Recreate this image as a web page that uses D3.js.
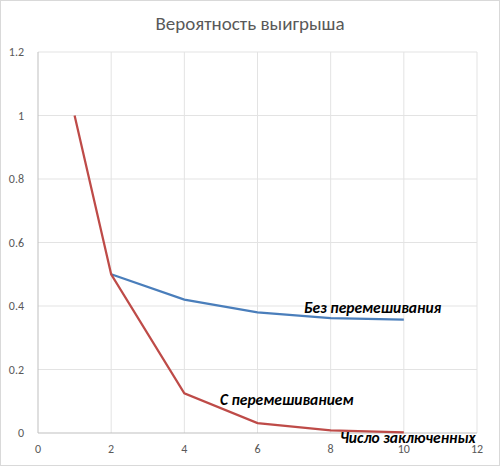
<!DOCTYPE html>
<html><head><meta charset="utf-8">
<script src="https://cdn.jsdelivr.net/npm/d3@7"></script>
<style>body{margin:0;background:#fff}</style>
</head><body>
<svg id="chart" width="500" height="466"></svg>
<script>
const xTicks = [0, 2, 4, 6, 8, 10, 12];
const yTicks = [0, 0.2, 0.4, 0.6, 0.8, 1, 1.2];
const noShuffleX = [2, 4, 6, 8, 10];
const noShuffleY = [0.5, 0.42, 0.38, 0.362, 0.357];
const shuffleX = [1, 2, 4, 6, 8, 10];
const shuffleY = [1, 0.5, 0.125, 0.031, 0.008, 0.002];

const svg = d3.select("#chart");
const font = "Calibri, Carlito, 'Liberation Sans', sans-serif";

svg.append("rect").attr("x", 0.5).attr("y", 0.5).attr("width", 499).attr("height", 465)
    .attr("fill", "#fff").attr("stroke", "#d9d9d9");

const x = d3.scaleLinear().domain([0, 12]).range([38, 477]);
const y = d3.scaleLinear().domain([0, 1.2]).range([433, 52]);

// gridlines
svg.selectAll(".hgrid").data(yTicks.slice(1)).enter().append("line")
    .attr("x1", x(0)).attr("x2", x(12))
    .attr("y1", d => y(d)).attr("y2", d => y(d))
    .attr("stroke", "#e3e3e3");
svg.selectAll(".vgrid").data(xTicks.slice(1)).enter().append("line")
    .attr("x1", d => x(d)).attr("x2", d => x(d))
    .attr("y1", y(0)).attr("y2", y(1.2))
    .attr("stroke", "#e3e3e3");

// axes lines
svg.append("line").attr("x1", x(0)).attr("x2", x(0)).attr("y1", y(0)).attr("y2", y(1.2)).attr("stroke", "#bfbfbf");
svg.append("line").attr("x1", x(0)).attr("x2", x(12)).attr("y1", y(0)).attr("y2", y(0)).attr("stroke", "#bfbfbf");

svg.selectAll(".ylab").data(yTicks).enter().append("text")
    .attr("x", 24).attr("y", d => y(d) + 4).attr("text-anchor", "end")
    .attr("font-family", font).attr("font-size", 12).attr("fill", "#595959")
    .text(d => d);
svg.selectAll(".xlab").data(xTicks).enter().append("text")
    .attr("x", d => x(d)).attr("y", 453).attr("text-anchor", "middle")
    .attr("font-family", font).attr("font-size", 12).attr("fill", "#595959")
    .text(d => d);

const line = d3.line().x(d => x(d[0])).y(d => y(d[1]));
svg.append("path").datum(d3.zip(noShuffleX, noShuffleY)).attr("d", line)
    .attr("fill", "none").attr("stroke", "#4a7ebb").attr("stroke-width", 2.25);
svg.append("path").datum(d3.zip(shuffleX, shuffleY)).attr("d", line)
    .attr("fill", "none").attr("stroke", "#be4b48").attr("stroke-width", 2.25);

svg.append("text").attr("x", 250).attr("y", 30).attr("text-anchor", "middle")
    .attr("font-family", font).attr("font-size", 19).attr("fill", "#595959")
    .text("Вероятность выигрыша");

const lab = (t, lx, ly) => svg.append("text").attr("x", lx).attr("y", ly)
    .attr("font-family", font).attr("font-size", 15.5).attr("font-weight", "bold")
    .attr("font-style", "italic").attr("fill", "#000").text(t);
lab("Без перемешивания", 304, 313);
lab("С перемешиванием", 220, 405);
lab("Число заключенных", 340, 443);
</script>
</body></html>
